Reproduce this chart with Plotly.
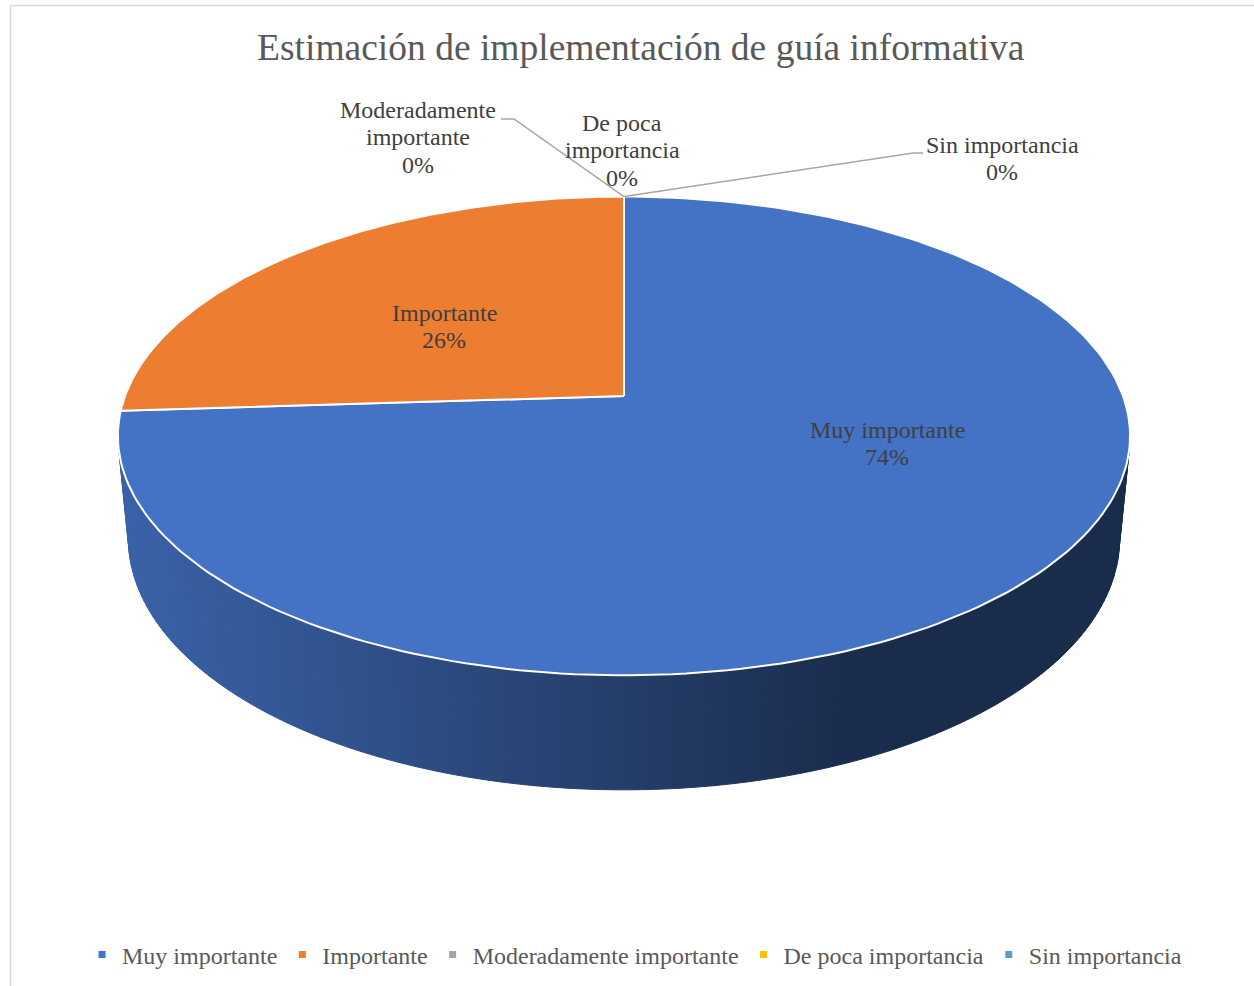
import numpy as np
import plotly.graph_objects as go

# ---- data ----
categories = ["Muy importante", "Importante", "Moderadamente importante",
              "De poca importancia", "Sin importancia"]
percent = [74, 26, 0, 0, 0]
colors = ["#4472C4", "#ED7D31", "#A5A5A5", "#FFC000", "#5B9BD5"]

title_text = "Estimación de implementación de guía informativa"

# ---- 3-D pie geometry (screen pixels) ----
W, H = 1254, 986
CX, CY = 624.0, 396.0           # projected pie centre
F = 499.0                        # horizontal radius scale
ELEV = np.radians(27.8)          # camera elevation
K = 0.1885                       # radius / camera distance
THICK = 0.2346                   # slab thickness / radius

SERIF = "Liberation Serif, Times New Roman, serif"


def project(theta, y=0.0, r=1.0):
    """theta in radians, clockwise from the far point; y = height (0 top)."""
    X = r * np.sin(theta)
    Z = r * np.cos(theta)
    v = y * np.cos(ELEV) + Z * np.sin(ELEV)
    w = 1.0 / K + Z * np.cos(ELEV) - y * np.sin(ELEV)
    return CX + (F / K) * X / w, CY - (F / K) * v / w


def hex_rgb(h):
    h = h.lstrip("#")
    return tuple(int(h[i:i + 2], 16) for i in (0, 2, 4))


def shade(hexcol, f):
    r, g, b = hex_rgb(hexcol)
    return f"rgb({int(r * f)},{int(g * f)},{int(b * f)})"


total = float(sum(percent))
bounds = np.concatenate([[0.0], np.cumsum(percent) / total]) * 2 * np.pi

fig = go.Figure()

# ---- visible side wall ----
cos_sil = -K / np.cos(ELEV)
t_start = np.arccos(cos_sil)
t_end = 2 * np.pi - t_start
n_strips = 140
edges = np.linspace(t_start, t_end, n_strips + 1)


def side_factor(px):
    t = np.clip((px - 125.0) / (860.0 - 125.0), 0, 1)
    return 0.86 - (0.86 - 0.39) * t


for i in range(n_strips):
    a0, a1 = edges[i], edges[i + 1]
    mid = 0.5 * (a0 + a1)
    idx = int(np.searchsorted(bounds, mid, side="right") - 1)
    idx = min(max(idx, 0), len(colors) - 1)
    th = np.linspace(a0, a1, 4)
    xt, yt = project(th, 0.0)
    xb, yb = project(th[::-1], -THICK)
    xs = np.concatenate([xt, xb, xt[:1]])
    ys = np.concatenate([yt, yb, yt[:1]])
    col = shade(colors[idx], side_factor(np.mean(xt)))
    fig.add_trace(go.Scatter(x=xs, y=ys, mode="lines", fill="toself",
                             fillcolor=col, line=dict(color=col, width=1),
                             hoverinfo="skip", showlegend=False))

# ---- top face slices ----
for i, (cat, p) in enumerate(zip(categories, percent)):
    if p <= 0:
        continue
    th = np.linspace(bounds[i], bounds[i + 1], 200)
    ax, ay = project(th, 0.0)
    xs = np.concatenate([[CX], ax, [CX]])
    ys = np.concatenate([[CY], ay, [CY]])
    fig.add_trace(go.Scatter(x=xs, y=ys, mode="lines", fill="toself",
                             fillcolor=colors[i],
                             line=dict(color="white", width=2),
                             hoverinfo="skip", showlegend=False))

# ---- data labels (one annotation per text line) ----
label_font = dict(family=SERIF, size=24, color="#404040")
LINE_STEP = 27.3
label_pos = {
    "Muy importante": (887, 430, ["Muy importante"]),
    "Importante": (444, 313, ["Importante"]),
    "Moderadamente importante": (418, 110, ["Moderadamente", "importante"]),
    "De poca importancia": (622, 123, ["De poca", "importancia"]),
    "Sin importancia": (1002, 145, ["Sin importancia"]),
}
for cat, p in zip(categories, percent):
    x, y0, name_lines = label_pos[cat]
    for j, line in enumerate(name_lines + [f"{p}%"]):
        fig.add_annotation(x=x, y=y0 + j * LINE_STEP, xref="x", yref="y",
                           showarrow=False, text=line, font=label_font,
                           xanchor="center", yanchor="middle")

# ---- leader lines for zero-size slices ----
zx, zy = project(bounds[2], 0.0)
leader_col = "#A6A6A6"
fig.add_trace(go.Scatter(x=[zx, 514, 501], y=[zy, 119, 119], mode="lines",
                         line=dict(color=leader_col, width=1.5),
                         hoverinfo="skip", showlegend=False))
fig.add_trace(go.Scatter(x=[zx, 913, 923], y=[zy, 153, 153], mode="lines",
                         line=dict(color=leader_col, width=1.5),
                         hoverinfo="skip", showlegend=False))

# ---- legend entries ----
for cat, col in zip(categories, colors):
    fig.add_trace(go.Scatter(x=[None], y=[None], mode="markers", name=cat,
                             marker=dict(symbol="square", size=7, color=col)))

fig.update_layout(
    width=W, height=H,
    margin=dict(l=0, r=0, t=0, b=0),
    paper_bgcolor="white", plot_bgcolor="white",
    xaxis=dict(range=[0, W], visible=False, fixedrange=True),
    yaxis=dict(range=[H, 0], visible=False, fixedrange=True),
    title=dict(text=title_text, x=0.511, xanchor="center",
               y=1 - 47 / H, yanchor="middle",
               font=dict(family=SERIF, size=37.5, color="#595959")),
    legend=dict(orientation="h", x=0.506, xanchor="center",
                y=1 - 955 / H, yanchor="middle",
                font=dict(family=SERIF, size=24, color="#595959"),
                itemwidth=30, bgcolor="rgba(0,0,0,0)"),
    shapes=[dict(type="rect", xref="x", yref="y", x0=10.5, y0=5.5,
                 x1=W + 20, y1=H + 20,
                 line=dict(color="#D9D9D9", width=1.5))],
)

fig.write_html("out.html")
